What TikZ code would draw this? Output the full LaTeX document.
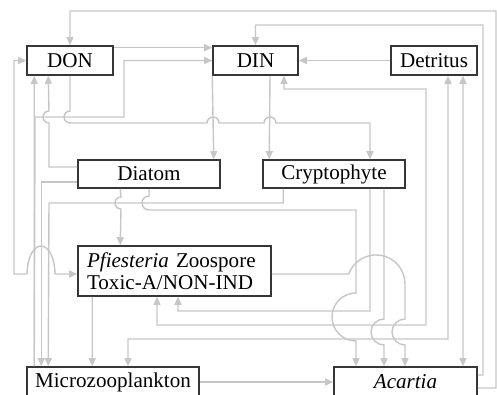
\documentclass[tikz,border=0pt]{standalone}
\usepackage{fontspec}
\setmainfont{Liberation Serif}
\usepackage{tikz}
\usetikzlibrary{arrows.meta}
\definecolor{cgris}{HTML}{C6C6C6}
\definecolor{cborde}{HTML}{363636}
\tikzset{
  comp/.style={rectangle, draw=cborde, line width=0.9pt, fill=white, inner sep=0pt,
    minimum height=0.57cm, align=center, font=\fontsize{12}{14}\selectfont},
  flujo/.style={-{Triangle[length=1.6mm,width=1.4mm]}, line width=0.8pt, draw=cgris},
  doble/.style={{Triangle[length=1.6mm,width=1.4mm]}-{Triangle[length=1.6mm,width=1.4mm]},
    line width=0.8pt, draw=cgris},
}

\begin{document}
\begin{tikzpicture}[x=0.02cm,y=0.02cm]
  \useasboundingbox (0,0) rectangle (497,395);
  \node[comp, minimum width=1.72cm, minimum height=0.58cm] (don) at (70,334.5) {DON};
  \node[comp, minimum width=1.70cm, minimum height=0.58cm] (din) at (255.5,334.5) {DIN};
  \node[comp, minimum width=1.72cm, minimum height=0.58cm] (det) at (434,334.5) {Detritus};
  \node[comp, minimum width=2.84cm, minimum height=0.56cm] (dia) at (149,221) {Diatom};
  \node[comp, minimum width=2.84cm, minimum height=0.56cm] (cry) at (334,221) {Cryptophyte};
  \node[comp, text width=3.5cm, inner xsep=0.18cm, minimum height=1cm, align=left,
    font=\fontsize{12}{12.8}\selectfont] (pfi) at (174.5,124)
    {\textit{Pfiesteria} Zoospore\\Toxic-A/NON-IND};
  \node[comp, minimum width=3.44cm, minimum height=0.6cm] (mic) at (113,13) {Microzooplankton};
  \node[comp, minimum width=2.86cm, minimum height=0.6cm] (aca) at (405.5,13) {\textit{Acartia}};

  \draw[flujo] ([yshift=-0.12cm]aca.east) -- (496,7) -- (496,384) -| (don.north);
  \draw[flujo] ([yshift=0.14cm]aca.east) -- (483,20) -- (483,370) -| (din.north);
  \draw[flujo] ([yshift=-0.05cm]don.north east) -- ([yshift=-0.05cm]din.north west);
  \draw[flujo] (det.west) -- (din.east);
  \draw[flujo] ([xshift=0.16cm]mic.north west) -- ([xshift=0.16cm]don.south west);
  \draw[flujo] ([xshift=0.16cm]mic.north west) -- (35,278) -- (124,278) |- (din.west);
  \draw[flujo] ([yshift=0.14cm]dia.west) -- (49,228) -- (49,272)
    arc[start angle=270,end angle=90,radius=0.12cm] -- ([xshift=0.44cm]don.south west);
  \draw[flujo] ([yshift=-0.16cm]dia.west) -| ([xshift=0.3cm]mic.north west);
  \draw[flujo] (don.south) -- (70,284) arc[start angle=90,end angle=270,radius=0.12cm]
    -- (207,272) arc[start angle=180,end angle=0,radius=0.12cm]
    -- (264,272) arc[start angle=180,end angle=0,radius=0.12cm]
    -- (370,272) -- ([xshift=0.72cm]cry.north);
  \draw[flujo] (din.south west) -- ([xshift=-0.14cm]dia.north east);
  \draw[flujo] ([xshift=0.29cm]din.south) -- ([xshift=0.14cm]cry.north west);
  \draw[doble] ([xshift=-0.35cm]pfi.south) |- (426,70) |- (284,306) -- ([xshift=0.57cm]din.south);
  \draw[doble] ([yshift=-0.06cm]pfi.west) -- (55,121)
    arc[start angle=0,end angle=180,x radius=0.28cm,y radius=0.56cm] -- (14,121) |- (don.west);
  \draw[flujo] ([xshift=0.3cm]pfi.south west) -- ([xshift=1.32cm]mic.north west);
  \draw[flujo] ([xshift=0.42cm]cry.south west) |- (49,192) -- ([xshift=0.44cm]mic.north west);
  \draw[flujo] ([xshift=0.86cm]dia.south west) -- (121,198)
    arc[start angle=90,end angle=270,radius=0.12cm] -- ([xshift=0.86cm]pfi.north west);
  \draw[flujo] (dia.south) -- (149,199) arc[start angle=90,end angle=270,radius=0.14cm]
    -- (356,185) -- (356,102) arc[start angle=90,end angle=270,radius=0.48cm]
    -- ([xshift=-0.99cm]aca.north);
  \draw[flujo] ([xshift=0.72cm]cry.south) |- (178,84) -- ([xshift=0.07cm]pfi.south);
  \draw[flujo] ([yshift=-0.06cm]pfi.east) -- (348.75,121)
    arc[start angle=160,end angle=0,radius=0.58cm]
    -- (405,76) arc[start angle=90,end angle=270,radius=0.26cm] -- ([xshift=-0.01cm]aca.north);
  \draw[flujo] ([xshift=1cm]cry.south) -- (384,76)
    arc[start angle=90,end angle=270,radius=0.26cm] -- ([xshift=-0.43cm]aca.north);
  \draw[doble] ([xshift=0.28cm]det.south) |- (128,56) -- ([xshift=0.3cm]mic.north);
  \draw[doble] ([xshift=0.58cm]det.south) -- ([xshift=1.15cm]aca.north);
  \draw[flujo] (mic.east) -- (aca.west);
\end{tikzpicture}
\end{document}
